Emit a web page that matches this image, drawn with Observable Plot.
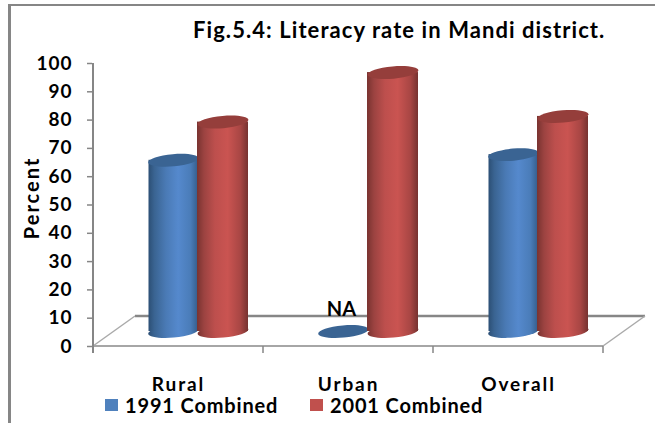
<!DOCTYPE html>
<html>
<head>
<meta charset="utf-8">
<script src="https://cdn.jsdelivr.net/npm/d3@7"></script>
<script src="https://cdn.jsdelivr.net/npm/@observablehq/plot@0.6"></script>
<style>
html,body{margin:0;padding:0;background:#fff;width:655px;height:423px;overflow:hidden}
#page{position:relative;width:655px;height:423px;font-family:Lato,sans-serif;font-weight:700;color:#000}
.frame{position:absolute;background:#868686}
#title{height:45px;box-sizing:border-box;padding-top:17px;padding-left:193px;font-size:22px;line-height:26px;white-space:nowrap;letter-spacing:1.07px}
#chart svg{display:block}
#legend{position:relative;height:28px;font-size:20px;line-height:18px;letter-spacing:.85px;white-space:nowrap}
#legend span{position:absolute;top:1px}
#legend i{position:absolute;top:4px;width:13px;height:12px}
</style>
</head>
<body>
<div id="page">
  <div class="frame" style="left:8px;top:4px;width:647px;height:2px"></div>
  <div class="frame" style="left:8px;top:4px;width:3px;height:419px"></div>
  <div id="title">Fig.5.4: Literacy rate in Mandi district.</div>
  <div id="chart"></div>
  <div id="legend"></div>
</div>
<script>
const categories = ["Rural", "Urban", "Overall"];
const series = ["1991 Combined", "2001 Combined"];
const values1991 = [60.5, 0, 62.5];
const values2001 = [74, 91.5, 76];
const naLabels = ["", "NA", ""];
const yTicks = [0, 10, 20, 30, 40, 50, 60, 70, 80, 90, 100];
const legendColors = ["#4f81bd", "#c0504d"];

const rows1991 = categories.map((c, i) => ({category: c, value: values1991[i], na: naLabels[i]}));
const rows2001 = categories.map((c, i) => ({category: c, value: values2001[i]}));

const AXIS = "#868686";
const DEPTH = 30;      // floor depth in px (3D look)
const SHIFT = 42;      // horizontal shear of floor
const LIFT = -15;      // bars stand mid-way across the floor

const ellipse = {
  draw(ctx, size) {
    const rx = Math.sqrt(size / Math.PI), ry = rx * 0.24, k = 0.5523;
    ctx.moveTo(-rx, 0);
    ctx.bezierCurveTo(-rx, -ry * k, -rx * k, -ry, 0, -ry);
    ctx.bezierCurveTo(rx * k, -ry, rx, -ry * k, rx, 0);
    ctx.bezierCurveTo(rx, ry * k, rx * k, ry, 0, ry);
    ctx.bezierCurveTo(-rx * k, ry, -rx, ry * k, -rx, 0);
    ctx.closePath();
  }
};

function defs() {
  const svg = d3.create("svg:g");
  const d = svg.append("defs");
  const mk = (id, stops) => {
    const g = d.append("linearGradient").attr("id", id);
    stops.forEach(([o, c]) => g.append("stop").attr("offset", o).attr("stop-color", c));
  };
  mk("gBlue", [[0, "#2c4f75"], [.12, "#3a6492"], [.35, "#4a7ab5"], [.6, "#5589cd"], [.85, "#4a7cb8"], [1, "#355c8a"]]);
  mk("gRed", [[0, "#793330"], [.14, "#9c4341"], [.35, "#bd4f4d"], [.6, "#ca5451"], [.85, "#a84644"], [1, "#763230"]]);
  return svg.node();
}

function floor(index, scales) {
  const {x, y} = scales;
  const step = x(categories[1]) - x(categories[0]);
  const x0 = x(categories[0]), x1 = x(categories[2]) + step, y0 = y(0);
  const g = d3.create("svg:g").attr("fill", "none").attr("stroke", AXIS);
  const seg = (a, b, c, e, w, col) => g.append("line").attr("x1", a).attr("y1", b).attr("x2", c).attr("y2", e)
    .attr("stroke-width", w).attr("stroke", col || AXIS);
  seg(x0 + SHIFT, y0 - DEPTH, x1 + SHIFT, y0 - DEPTH, 2.5);
  seg(x0, y0, x0 + SHIFT, y0 - DEPTH, 1.5, "#aaaaaa");
  seg(x1, y0, x1 + SHIFT, y0 - DEPTH, 1.5, "#aaaaaa");
  seg(x0, y0, x1, y0, 2, "#a6a6a6");
  [...categories.map(c => x(c)), x1].forEach(p => seg(p, y0, p, y0 + 7, 1.5));
  seg(x0, y(100), x0, y0 + 7, 2);
  return g.node();
}

function cylinder(rows, fillId, topColor, left, right, r, dx) {
  return [
    Plot.dot(rows.filter(d => d.value > 0), {x: "category", y: 0, dx, dy: LIFT, r, symbol: ellipse, rotate: -5, fill: `url(#${fillId})`}),
    Plot.barY(rows.filter(d => d.value > 0), {x: "category", y1: 0, y2: "value", dy: LIFT, insetLeft: left, insetRight: right, fill: `url(#${fillId})`}),
    Plot.dot(rows, {x: "category", y: "value", dx, dy: LIFT, r, symbol: ellipse, rotate: -5, fill: topColor})
  ];
}

const chart = Plot.plot({
  width: 655,
  height: 350,
  marginLeft: 92,
  marginRight: 52,
  marginTop: 18,
  marginBottom: 49,
  style: {background: "transparent", overflow: "visible"},
  x: {domain: categories, padding: 0, label: null},
  y: {domain: [0, 100], label: null},
  marks: [
    defs,
    floor,
    Plot.axisY({
      ticks: yTicks, tickSize: 5, tickPadding: 15, stroke: AXIS, strokeWidth: 1.5,
      fontSize: 19, fontWeight: 700, fontFamily: "Lato, sans-serif", fill: "#000",
      label: null
    }),
    Plot.text(["Percent"], {
      text: d => d, y: [52.5], frameAnchor: "left", dx: -60, rotate: -90, textAnchor: "middle",
      fontSize: 20, fontWeight: 700, fontFamily: "Lato, sans-serif", fill: "#000"
    }),
    Plot.axisX({
      tickSize: 0, tickPadding: 31, fontSize: 19, fontWeight: 700,
      fontFamily: "Lato, sans-serif", fill: "#000", label: null
    }),
    ...cylinder(rows1991, "gBlue", "#3a6493", 55.5, 65, 25.2, -5.2),
    ...cylinder(rows2001, "gRed", "#953e3b", 104, 15, 25.5, 44.5),
    Plot.text(rows1991, {
      x: "category", y: 0, text: "na", dx: -7, dy: -37,
      fontSize: 20, fontWeight: 700, fontFamily: "Lato, sans-serif", fill: "#000"
    })
  ]
});
document.getElementById("chart").appendChild(chart);

// letter spacing follows the reference's wider lettering
d3.select(chart).selectAll("[aria-label='x-axis tick label'] text, [aria-label='x-axis tick label']")
  .attr("letter-spacing", "1.9px");
d3.select(chart).selectAll("[aria-label='y-axis tick label'] text, [aria-label='y-axis tick label']")
  .attr("letter-spacing", "1px");
d3.select(chart).selectAll("text").filter(function() { return this.textContent === "Percent"; })
  .attr("letter-spacing", "2px");

const legend = d3.select("#legend");
[[105, 125], [310, 330]].forEach(([sw, tx], i) => {
  legend.append("i").style("left", sw + "px").style("background", legendColors[i]);
  legend.append("span").style("left", tx + "px").text(series[i]);
});
</script>
</body>
</html>
